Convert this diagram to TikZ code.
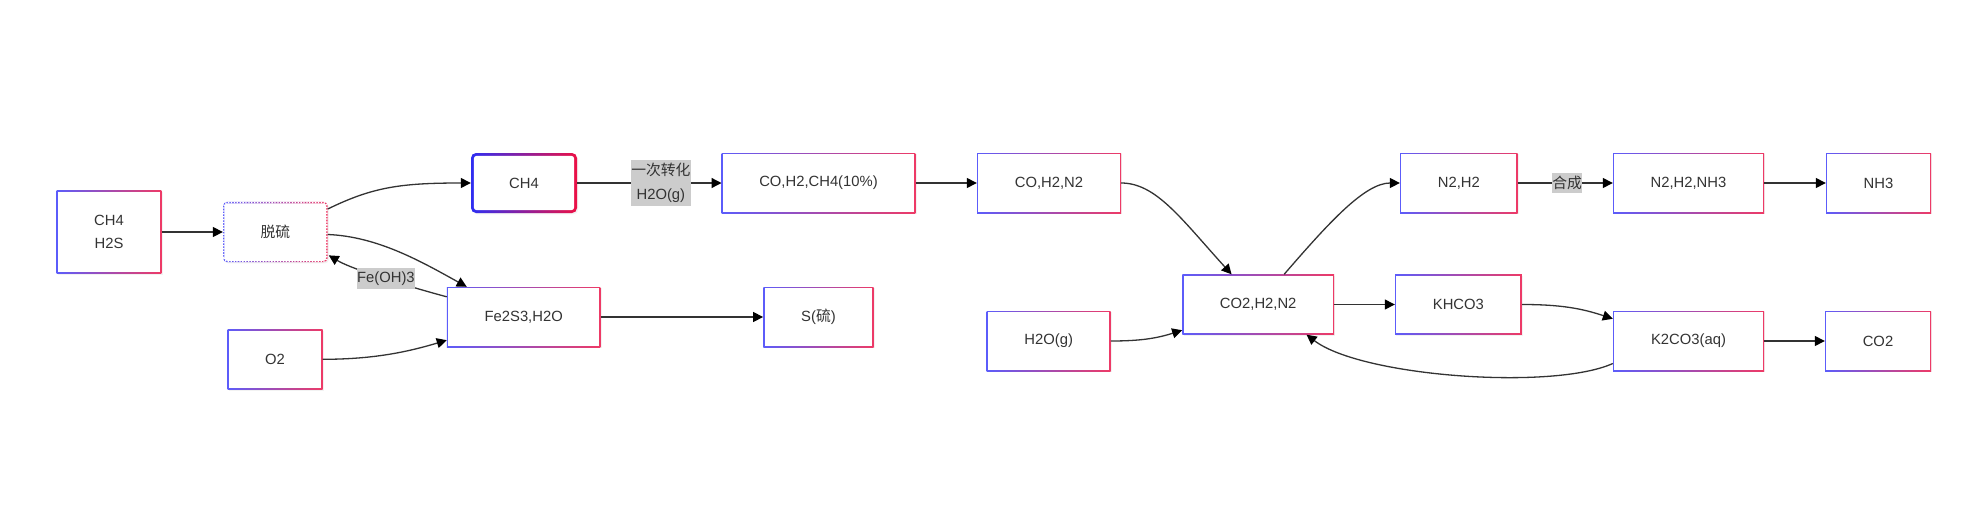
\documentclass[tikz,border=0pt]{standalone}
\usepackage{fontspec}
\setmainfont{Liberation Sans}
\newfontfamily\cjk{Noto Sans CJK SC}
\usetikzlibrary{arrows.meta,calc,shadows}
\definecolor{gl}{HTML}{5C5CFA}
\definecolor{gr}{HTML}{EE3A66}
\definecolor{tl}{HTML}{2E2EF2}
\definecolor{tr}{HTML}{EC1045}
\definecolor{txt}{HTML}{333333}
\definecolor{lbl}{HTML}{CCCCCC}
\definecolor{ln}{HTML}{333333}
\tikzset{
  basebox/.style={rectangle, inner sep=0pt, text=txt,
    font=\fontsize{14.8}{22.7}\selectfont, align=center,
    drop shadow={opacity=0.10, shadow xshift=1.3pt, shadow yshift=-1.3pt}},
  gbox/.style={basebox, left color=gl, right color=gr,
    path picture={\fill[white] ([shift={(1.4pt,1.4pt)}]path picture bounding box.south west)
      rectangle ([shift={(-1.4pt,-1.4pt)}]path picture bounding box.north east);}},
  tbox/.style={basebox, left color=tl, right color=tr, rounded corners=5pt,
    path picture={\fill[white, rounded corners=3pt] ([shift={(2.8pt,2.8pt)}]path picture bounding box.south west)
      rectangle ([shift={(-2.8pt,-2.8pt)}]path picture bounding box.north east);}},
  dbox/.style={basebox, left color=gl, right color=gr, rounded corners=4pt,
    path picture={\fill[white, rounded corners=3pt] ([shift={(1.4pt,1.4pt)}]path picture bounding box.south west)
      rectangle ([shift={(-1.4pt,-1.4pt)}]path picture bounding box.north east);
      \draw[white, line width=1.8pt, dash pattern=on 1.3pt off 1.6pt, rounded corners=3.5pt]
      ([shift={(0.7pt,0.7pt)}]path picture bounding box.south west)
      rectangle ([shift={(-0.7pt,-0.7pt)}]path picture bounding box.north east);}},
  lab/.style={fill=lbl, inner xsep=0pt, inner ysep=3.5pt, text=txt,
    font=\fontsize{14.8}{24}\selectfont, align=center},
  conn/.style={draw=ln, line width=1.3pt, -{Triangle[length=10pt,width=10pt,color=black]}}
}
\begin{document}
\begin{tikzpicture}[x=1pt,y=-1pt]
\useasboundingbox (0,0) rectangle (1978,522);
% nodes
\node[gbox, minimum width=104.6pt, minimum height=82.5pt] (n1) at (109,232) {CH4\\H2S};
\node[dbox, minimum width=104.5pt, minimum height=60.3pt] (dsl) at (275.3,232) {\cjk 脱硫};
\node[tbox, minimum width=106pt, minimum height=60pt] (ch4) at (524,183) {CH4};
\node[gbox, minimum width=153.5pt, minimum height=60pt] (fe) at (523.7,317) {Fe2S3,H2O};
\node[gbox, minimum width=95pt, minimum height=60pt] (o2) at (275,359.3) {O2};
\node[gbox, minimum width=110.4pt, minimum height=60pt] (sx) at (818.5,317) {S({\cjk 硫})};
\node[gbox, minimum width=193.6pt, minimum height=60pt] (co1) at (818.5,183) {CO,H2,CH4(10\%)};
\node[gbox, minimum width=144pt, minimum height=60pt] (co2) at (1049,183) {CO,H2,N2};
\node[gbox, minimum width=151.7pt, minimum height=60pt] (mid) at (1258.2,304.5) {CO2,H2,N2};
\node[gbox, minimum width=124pt, minimum height=60pt] (h2o) at (1048.7,341) {H2O(g)};
\node[gbox, minimum width=117.5pt, minimum height=60pt] (n2h2) at (1458.8,183) {N2,H2};
\node[gbox, minimum width=126.8pt, minimum height=60pt] (khco3) at (1458.4,304.5) {KHCO3};
\node[gbox, minimum width=151pt, minimum height=60pt] (nh) at (1688.5,183) {N2,H2,NH3};
\node[gbox, minimum width=105pt, minimum height=60pt] (nh3) at (1878.5,183) {NH3};
\node[gbox, minimum width=151pt, minimum height=60pt] (k2) at (1688.5,341) {K2CO3(aq)};
\node[gbox, minimum width=106pt, minimum height=60pt] (co2b) at (1878,341) {CO2};
% connectors
\draw[conn] (n1.east) -- (dsl.west);
\draw[conn] ($(dsl.east)+(0,-23)$) .. controls +(45,-22) and +(-70,0) .. (ch4.west);
\draw[conn] ($(dsl.east)+(0,2.5)$) .. controls +(50,2) and +(-45,-25) .. ($(fe.north west)+(20,0)$);
\draw[conn] ($(fe.north west)+(0,10)$) .. controls +(-30,-8) and +(25,15) .. ($(dsl.south east)+(1,-7)$)
  node[lab, pos=0.5] {Fe(OH)3};
\draw[conn] (o2.east) .. controls +(50,0) and +(-40,12) .. ($(fe.south west)+(0,-7)$);
\draw[conn] (fe.east) -- (sx.west);
\draw[conn] (ch4.east) -- node[lab, pos=0.58] {{\cjk 一次转化}\\H2O(g)} (co1.west);
\draw[conn] (co1.east) -- (co2.west);
\draw[conn] (co2.east) .. controls +(35,0) and +(-50,-55) .. ($(mid.north west)+(49.4,0)$);
\draw[conn] (h2o.east) .. controls +(30,0) and +(-25,8) .. ($(mid.south west)+(0,-4.5)$);
\draw[conn] ($(mid.north west)+(102,0)$) .. controls +(45,-52) and +(-35,0) .. (n2h2.west);
\draw[conn] (mid.east) -- (khco3.west);
\draw[conn] (khco3.east) .. controls +(40,0) and +(-30,-10) .. ($(k2.north west)+(0,8)$);
\draw[conn] ($(k2.south west)+(0,-7.7)$) .. controls +(-60,27) and +(55,42) .. ($(mid.south west)+(124.4,0)$);
\draw[conn] (n2h2.east) -- node[lab, pos=0.52] {\cjk 合成} (nh.west);
\draw[conn] (nh.east) -- (nh3.west);
\draw[conn] (k2.east) -- (co2b.west);
\end{tikzpicture}
\end{document}
